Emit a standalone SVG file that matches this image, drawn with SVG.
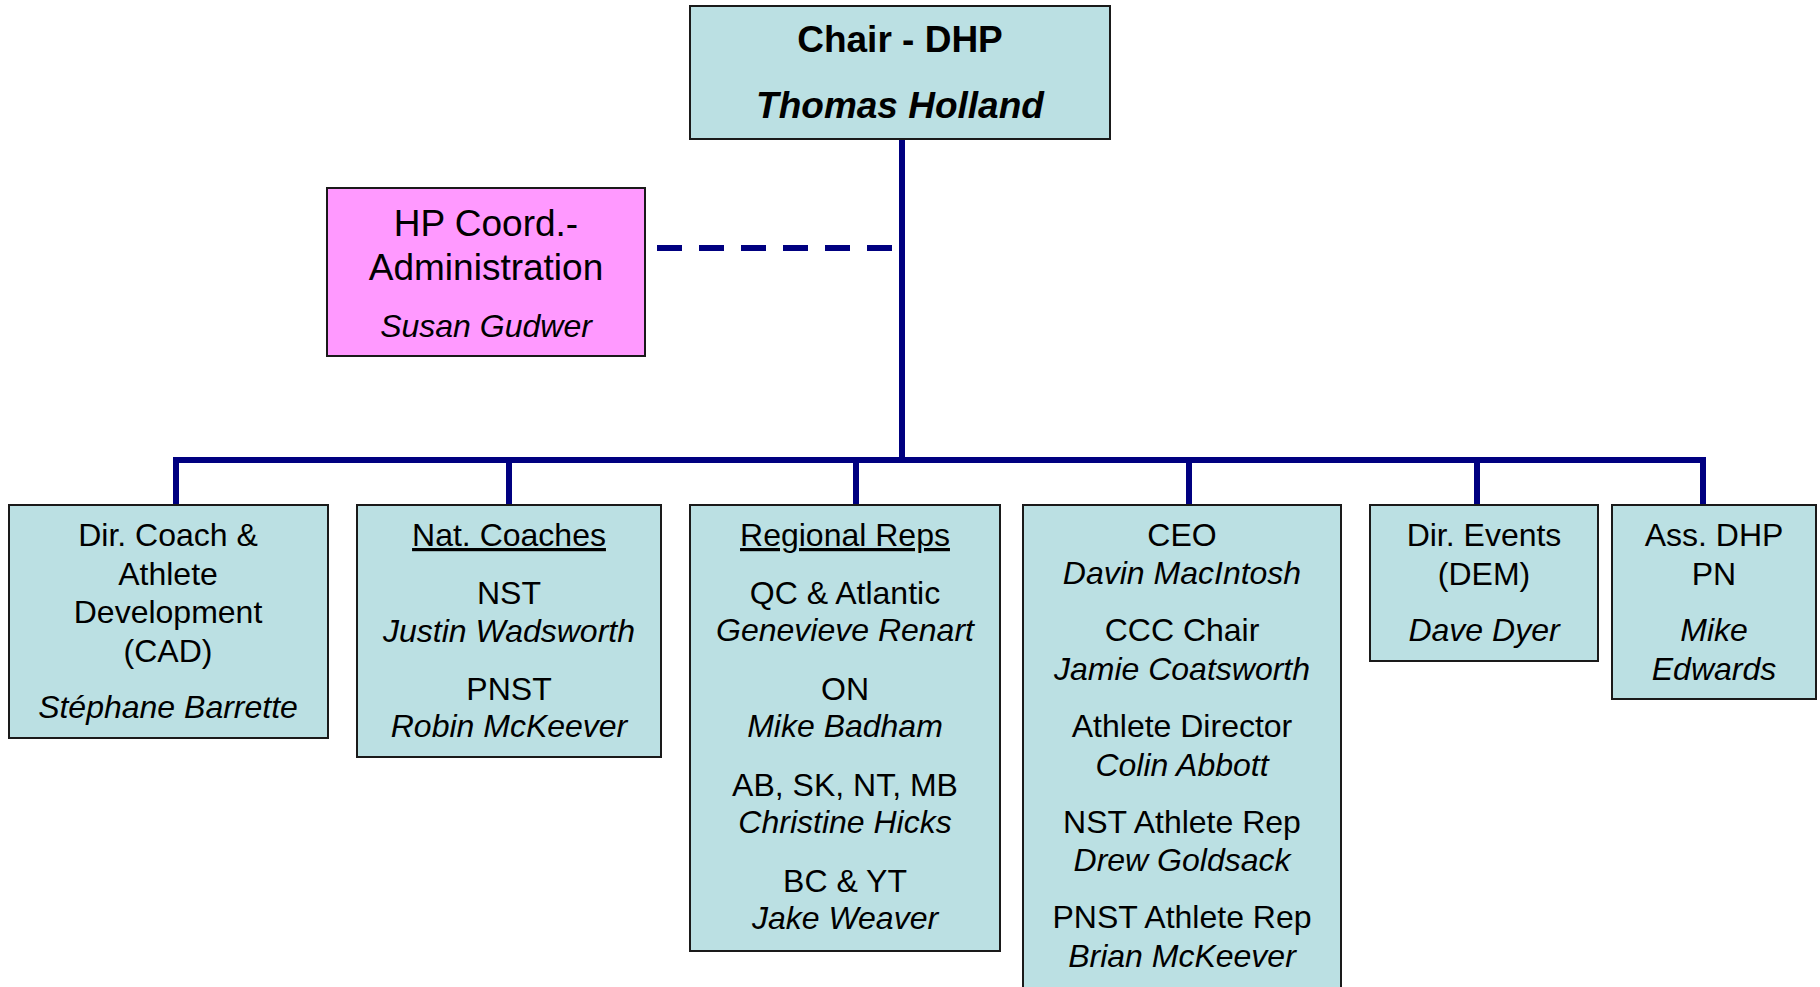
<svg xmlns="http://www.w3.org/2000/svg" width="1820" height="987" viewBox="0 0 1820 987">
<style>
.box{fill:#BBE0E3;stroke:#1a1a1a;stroke-width:2}
.pink{fill:#FF99FF;stroke:#1a1a1a;stroke-width:2}
text{font-family:"Liberation Sans",Arial,sans-serif;fill:#000;text-anchor:middle}
.t{font-size:32px}
.n{font-size:32px;font-style:italic}
.u{text-decoration:underline}
.conn{stroke:#000080;stroke-width:6;fill:none}
</style>
<rect width="1820" height="987" fill="#fff"/>
<g id="connectors">
<line class="conn" x1="902" y1="139" x2="902" y2="460"/>
<line class="conn" x1="657" y1="248" x2="892" y2="248" stroke-dasharray="25 17"/>
<path class="conn" d="M176 505 V460 H1703 V505" stroke-linejoin="miter"/>
<line class="conn" x1="509" y1="460" x2="509" y2="505"/>
<line class="conn" x1="856" y1="460" x2="856" y2="505"/>
<line class="conn" x1="1189" y1="460" x2="1189" y2="505"/>
<line class="conn" x1="1477" y1="460" x2="1477" y2="505"/>
</g>
<g id="chair">
<rect class="box" x="690" y="6" width="420" height="133"/>
<text x="900" y="52" font-size="37" font-weight="bold">Chair - DHP</text>
<text x="900" y="118" font-size="37" font-weight="bold" font-style="italic">Thomas Holland</text>
</g>
<g id="hp-coord">
<rect class="pink" x="327" y="188" width="318" height="168"/>
<text x="486" y="236" font-size="37">HP Coord.-</text>
<text x="486" y="280" font-size="37">Administration</text>
<text x="486" y="337" font-size="32" font-style="italic">Susan Gudwer</text>
</g>
<g id="dir-coach">
<rect class="box" x="9" y="505" width="319" height="233"/>
<text class="t" x="168" y="546">Dir. Coach &amp;</text>
<text class="t" x="168" y="585">Athlete</text>
<text class="t" x="168" y="623">Development</text>
<text class="t" x="168" y="662">(CAD)</text>
<text class="n" x="168" y="718">Stéphane Barrette</text>
</g>
<g id="nat-coaches">
<rect class="box" x="357" y="505" width="304" height="252"/>
<text class="t u" x="509" y="546">Nat. Coaches</text>
<text class="t" x="509" y="604">NST</text>
<text class="n" x="509" y="642">Justin Wadsworth</text>
<text class="t" x="509" y="700">PNST</text>
<text class="n" x="509" y="737">Robin McKeever</text>
</g>
<g id="regional-reps">
<rect class="box" x="690" y="505" width="310" height="446"/>
<text class="t u" x="845" y="546">Regional Reps</text>
<text class="t" x="845" y="604">QC &amp; Atlantic</text>
<text class="n" x="845" y="641">Genevieve Renart</text>
<text class="t" x="845" y="700">ON</text>
<text class="n" x="845" y="737">Mike Badham</text>
<text class="t" x="845" y="796">AB, SK, NT, MB</text>
<text class="n" x="845" y="833">Christine Hicks</text>
<text class="t" x="845" y="892">BC &amp; YT</text>
<text class="n" x="845" y="929">Jake Weaver</text>
</g>
<g id="ceo">
<rect class="box" x="1023" y="505" width="318" height="500"/>
<text class="t" x="1182" y="546">CEO</text>
<text class="n" x="1182" y="584">Davin MacIntosh</text>
<text class="t" x="1182" y="641">CCC Chair</text>
<text class="n" x="1182" y="680">Jamie Coatsworth</text>
<text class="t" x="1182" y="737">Athlete Director</text>
<text class="n" x="1182" y="776">Colin Abbott</text>
<text class="t" x="1182" y="833">NST Athlete Rep</text>
<text class="n" x="1182" y="871">Drew Goldsack</text>
<text class="t" x="1182" y="928">PNST Athlete Rep</text>
<text class="n" x="1182" y="967">Brian McKeever</text>
</g>
<g id="dir-events">
<rect class="box" x="1370" y="505" width="228" height="156"/>
<text class="t" x="1484" y="546">Dir. Events</text>
<text class="t" x="1484" y="585">(DEM)</text>
<text class="n" x="1484" y="641">Dave Dyer</text>
</g>
<g id="ass-dhp">
<rect class="box" x="1612" y="505" width="204" height="194"/>
<text class="t" x="1714" y="546">Ass. DHP</text>
<text class="t" x="1714" y="585">PN</text>
<text class="n" x="1714" y="641">Mike</text>
<text class="n" x="1714" y="680">Edwards</text>
</g>
</svg>
